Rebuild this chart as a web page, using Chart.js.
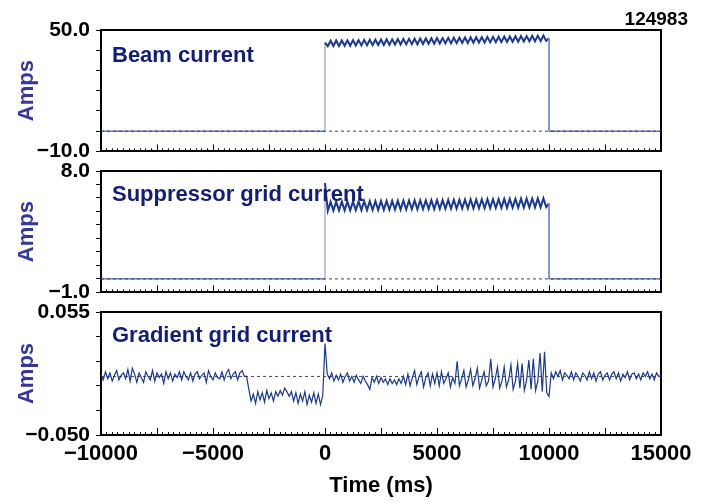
<!DOCTYPE html>
<html>
<head>
<meta charset="utf-8">
<script src="https://cdn.jsdelivr.net/npm/chart.js@4.4.1/dist/chart.umd.min.js"></script>
<style>
  body { margin: 0; background: #fff; }
  #wrap { position: relative; width: 701px; height: 503px; overflow: hidden; font-family: "Liberation Sans", Arial, sans-serif; }
  canvas { position: absolute; left: 0; }
  .lbl { position: absolute; left: 112px; font-weight: bold; font-size: 22px; line-height: 22px; color: #101e7a; white-space: nowrap; }
  #shot { position: absolute; right: 13px; top: 10px; font-weight: bold; font-size: 19px; line-height: 17px; color: #000; }
</style>
</head>
<body>
<div id="wrap">
  <canvas id="beam" width="701" height="170" style="top:0px"></canvas>
  <canvas id="supp" width="701" height="170" style="top:141px"></canvas>
  <canvas id="grad" width="701" height="221" style="top:282px"></canvas>
  <div class="lbl" style="top:44px">Beam current</div>
  <div class="lbl" style="top:183px">Suppressor grid current</div>
  <div class="lbl" style="top:324px">Gradient grid current</div>
  <div id="shot">124983</div>
</div>
<script>
// time axis (ms)
const tMin = -10000, tMax = 15000;
const xMajorTicks = [-10000, -7500, -5000, -2500, 0, 2500, 5000, 7500, 10000, 12500, 15000];
const xLabelTicks = [-10000, -5000, 0, 5000, 10000, 15000];
const xMinorStep = 250;

// beam / suppressor: off level, then pulse sampled every 125 ms from 0 to 10000 ms
const pulseStep = 125;
const pulseEnd = 10000;
const beamOff = 0;
const beamPulse = [
  43.8,
  42.0, 44.7, 42.1, 44.8, 42.1, 44.8, 42.2, 44.9, 42.2, 45.0,
  42.3, 45.0, 42.4, 45.1, 42.4, 45.2, 42.5, 45.2, 42.6, 45.3,
  42.6, 45.4, 42.7, 45.4, 42.8, 45.5, 42.8, 45.6, 42.9, 45.6,
  43.0, 45.7, 43.0, 45.8, 43.1, 45.8, 43.2, 45.9, 43.2, 46.0,
  43.3, 46.0, 43.4, 46.1, 43.4, 46.2, 43.5, 46.2, 43.6, 46.3,
  43.6, 46.4, 43.7, 46.4, 43.8, 46.5, 43.8, 46.6, 43.9, 46.6,
  44.0, 46.7, 44.0, 46.8, 44.1, 46.8, 44.2, 46.9, 44.2, 47.0,
  44.3, 47.0, 44.4, 47.1, 44.4, 47.2, 44.5, 47.3, 44.6, 46.0
];
const suppOff = 0;
const suppPulse = [
  7.1,
  5.05, 5.72, 5.06, 5.73, 5.07, 5.73, 5.08, 5.74, 5.08, 5.75,
  5.09, 5.75, 5.10, 5.76, 5.10, 5.77, 5.11, 5.77, 5.12, 5.78,
  5.12, 5.79, 5.13, 5.79, 5.14, 5.80, 5.14, 5.81, 5.15, 5.81,
  5.16, 5.82, 5.16, 5.83, 5.17, 5.83, 5.18, 5.84, 5.18, 5.85,
  5.19, 5.85, 5.20, 5.86, 5.20, 5.87, 5.21, 5.87, 5.22, 5.88,
  5.22, 5.89, 5.23, 5.89, 5.24, 5.90, 5.24, 5.91, 5.25, 5.91,
  5.26, 5.92, 5.26, 5.93, 5.27, 5.93, 5.28, 5.94, 5.28, 5.95,
  5.29, 5.95, 5.30, 5.96, 5.30, 5.97, 5.31, 5.98, 5.32, 5.60
];

// gradient grid current, sampled every 100 ms from -10000 to 15000 ms
const gradT0 = -10000;
const gradStep = 100;
const gradI = [
  // -10000 .. -3600
  0.002, -0.003, 0.004, -0.002, 0.003, -0.004, 0.001, 0.005, -0.003, 0.001,
  0.003, -0.002, 0.006, -0.004, 0.007, 0.002, -0.005, 0.003, -0.001, -0.005,
  0.004, 0.000, -0.003, 0.005, -0.004, 0.003, -0.001, 0.002, -0.006, 0.004,
  -0.002, 0.003, -0.004, 0.002, -0.001, 0.004, -0.003, 0.004, 0.000, -0.003,
  0.003, -0.004, 0.002, 0.004, -0.002, 0.001, 0.003, -0.005, 0.005, 0.000,
  -0.003, 0.003, -0.001, -0.002, 0.004, -0.003, 0.003, 0.006, -0.002, 0.002,
  0.004, -0.003, 0.003, 0.005, 0.000,
  // -3500 .. -100
  0.000, -0.011, -0.021, -0.015, -0.023, -0.013, -0.020, -0.014, -0.022, -0.012,
  -0.019, -0.014, -0.021, -0.013, -0.017, -0.012, -0.016, -0.010, -0.013, -0.017,
  -0.013, -0.021, -0.014, -0.023, -0.015, -0.021, -0.013, -0.024, -0.016, -0.022,
  -0.014, -0.023, -0.015, -0.024, -0.016,
  // 0
  0.028,
  // 100 .. 10000
  0.002, -0.002, 0.003, -0.004, 0.001, -0.003, 0.002, -0.005, 0.000, 0.003,
  -0.004, 0.000, -0.005, 0.001, -0.003, -0.006, 0.000, -0.004, -0.007, -0.011,
  -0.001, -0.005, 0.000, -0.006, -0.001, -0.005, -0.002, -0.007, -0.002, -0.006,
  -0.003, -0.007, -0.002, -0.006, 0.000, -0.007, 0.002, -0.008, -0.001, 0.005,
  -0.007, 0.000, 0.004, -0.009, -0.001, 0.003, -0.008, 0.002, -0.006, 0.003,
  -0.008, 0.004, -0.006, -0.002, 0.003, -0.009, -0.001, -0.006, 0.013, -0.008,
  -0.002, 0.005, -0.009, -0.003, 0.006, -0.008, -0.002, 0.007, -0.010, -0.003,
  0.004, -0.008, -0.004, 0.015, -0.009, -0.002, 0.008, -0.010, -0.004, 0.008,
  -0.009, -0.003, 0.010, -0.011, -0.004, 0.011, -0.010, 0.011, -0.012, -0.003,
  0.014, -0.011, 0.015, -0.012, -0.004, 0.020, -0.013, 0.021, -0.014, -0.017,
  // 10100 .. 15000
  0.003, -0.002, 0.004, 0.000, 0.005, -0.003, 0.003, 0.001, -0.002, 0.004,
  -0.003, 0.003, 0.000, -0.004, 0.003, 0.001, -0.003, 0.004, -0.002, 0.003,
  -0.004, 0.002, 0.004, -0.003, 0.001, 0.003, -0.003, 0.002, 0.004, -0.002,
  0.003, -0.004, 0.002, -0.001, 0.004, -0.003, 0.002, 0.003, -0.002, 0.002,
  -0.003, 0.003, 0.000, 0.004, -0.002, 0.002, -0.003, 0.003, 0.000, 0.001
];

// y axes
const beamTicks = [-10, 0, 10, 20, 30, 40, 50];
const beamLabels = { '-10': '\u221210.0', '50': '50.0' };
const suppTicks = [-1, 0, 1, 2, 3, 4, 5, 6, 7, 8];
const suppLabels = { '-1': '\u22121.0', '8': '8.0' };
const gradTicks = [-0.050, -0.029, -0.008, 0.013, 0.034, 0.055];
const gradLabels = { '-0.05': '\u22120.050', '0.055': '0.055' };

const traceColor = '#1a3896';
const edgeColor = '#7886c8';
const axisFont = { family: '"Liberation Sans", Arial, sans-serif', weight: 'bold', size: 21 };
const xFont = { family: '"Liberation Sans", Arial, sans-serif', weight: 'bold', size: 22 };

function pulseTrace(pulse, off) {
  const pts = [{ x: tMin, y: off }, { x: 0, y: off }];
  pulse.forEach((v, i) => pts.push({ x: i * pulseStep, y: v }));
  pts.push({ x: pulseEnd, y: off }, { x: tMax, y: off });
  return pts;
}

function minorTicks() {
  const t = [];
  for (let v = tMin; v <= tMax; v += xMinorStep) t.push({ value: v });
  return t;
}

function fmtX(v) {
  return v < 0 ? '\u2212' + Math.abs(v) : String(v);
}

// pulse segments drawn heavier, vertical edges thin and light
const isEdge = c => c.p0.parsed.x === c.p1.parsed.x;
const inPulse = c => c.p0.parsed.x >= 0 && c.p1.parsed.x <= pulseEnd && !isEdge(c);
const pulseSegment = {
  borderWidth: c => inPulse(c) ? 2 : 1,
  borderColor: c => isEdge(c) ? edgeColor : traceColor
};

function makePanel(id, trace, yMin, yMax, yTicks, yLabels, last, segment, width) {
  new Chart(document.getElementById(id), {
    type: 'line',
    data: {
      datasets: [
        { data: trace, borderColor: traceColor, borderWidth: width, pointRadius: 0, tension: 0, segment: segment },
        { data: [{ x: tMin, y: 0 }, { x: tMax, y: 0 }], borderColor: '#444', borderWidth: 1,
          borderDash: [3, 3], pointRadius: 0 }
      ]
    },
    options: {
      responsive: false,
      animation: false,
      devicePixelRatio: 1,
      layout: { padding: { top: 30, right: 40, bottom: last ? 0 : 18, left: 0 } },
      plugins: { legend: { display: false }, tooltip: { enabled: false } },
      scales: {
        x: {
          type: 'linear', position: 'bottom', min: tMin, max: tMax, weight: 1,
          afterBuildTicks: s => { s.ticks = xMajorTicks.map(v => ({ value: v })); },
          afterFit: s => { s.height = last ? 68 : 0; s.paddingLeft = 0; s.paddingRight = 0; },
          grid: { drawOnChartArea: false, drawTicks: true, tickLength: -7, tickColor: '#000', tickWidth: 1 },
          border: { display: true, color: '#000', width: 2 },
          ticks: {
            display: last, autoSkip: false, maxRotation: 0, padding: 13, color: '#000', font: xFont,
            callback: v => xLabelTicks.includes(v) ? fmtX(v) : ''
          },
          title: { display: last, text: 'Time (ms)', color: '#000', font: xFont, padding: { top: 0, bottom: 4 } }
        },
        xMinor: {
          type: 'linear', position: 'bottom', min: tMin, max: tMax, weight: 0,
          afterBuildTicks: s => { s.ticks = minorTicks(); },
          afterFit: s => { s.height = 0; },
          grid: { drawOnChartArea: false, drawTicks: true, tickLength: -3, tickColor: '#000', tickWidth: 1 },
          border: { display: false },
          ticks: { display: false }
        },
        xTop: {
          type: 'linear', position: 'top', min: tMin, max: tMax,
          afterFit: s => { s.height = 0; },
          grid: { drawOnChartArea: false, drawTicks: false },
          border: { display: true, color: '#000', width: 2 },
          ticks: { display: false }
        },
        y: {
          type: 'linear', position: 'left', min: yMin, max: yMax,
          afterBuildTicks: s => { s.ticks = yTicks.map(v => ({ value: v })); },
          afterFit: s => { s.width = 101; },
          grid: { drawOnChartArea: false, drawTicks: true, tickLength: 5, tickColor: '#000', tickWidth: 1 },
          border: { display: true, color: '#000', width: 2 },
          ticks: {
            autoSkip: false, padding: 6, color: '#000', font: axisFont,
            callback: v => yLabels[String(+v.toFixed(4))] || ''
          },
          title: { display: true, text: 'Amps', color: '#3535a5', font: xFont, padding: { top: 14, bottom: 0 } }
        },
        yRight: {
          type: 'linear', position: 'right', min: yMin, max: yMax,
          afterFit: s => { s.width = 0; },
          grid: { drawOnChartArea: false, drawTicks: false },
          border: { display: true, color: '#000', width: 2 },
          ticks: { display: false }
        }
      }
    }
  });
}

const gradTrace = gradI.map((v, i) => ({ x: gradT0 + i * gradStep, y: v }));

makePanel('beam', pulseTrace(beamPulse, beamOff), -10, 50, beamTicks, beamLabels, false, pulseSegment, 1);
makePanel('supp', pulseTrace(suppPulse, suppOff), -1, 8, suppTicks, suppLabels, false, pulseSegment, 1);
makePanel('grad', gradTrace, -0.050, 0.055, gradTicks, gradLabels, true, undefined, 1.2);
</script>
</body>
</html>
